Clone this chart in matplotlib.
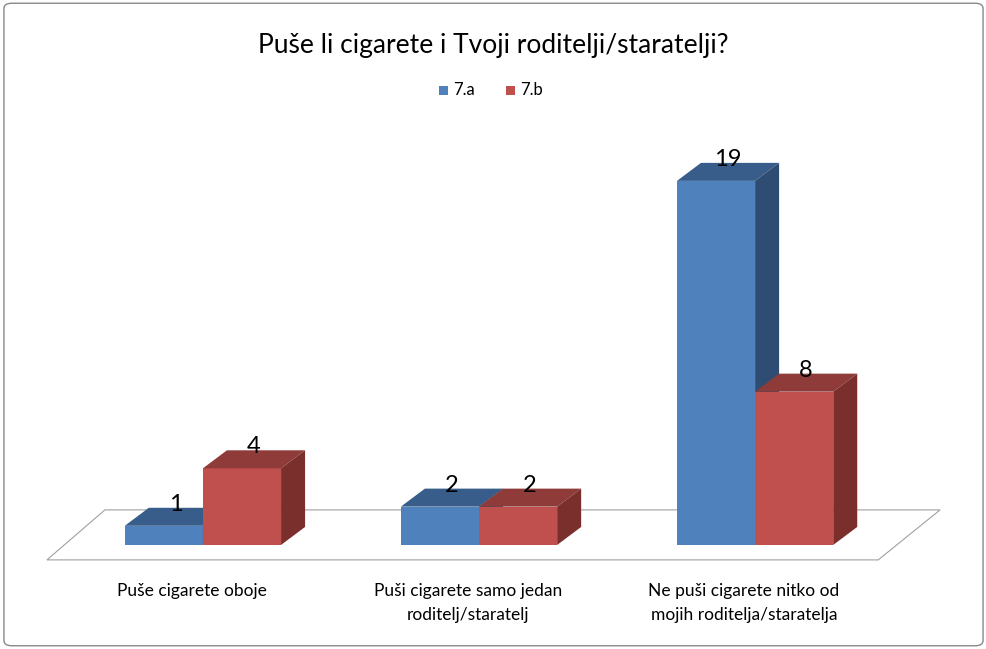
import matplotlib
matplotlib.use("Agg")
import matplotlib.pyplot as plt
from matplotlib.patches import Polygon, FancyBboxPatch

plt.rcParams["font.family"] = "Lato"

categories = ["Puše cigarete oboje", "Puši cigarete samo jedan\nroditelj/staratelj",
              "Ne puši cigarete nitko od\nmojih roditelja/staratelja"]
series_names = ["7.a", "7.b"]
values_a = [1, 2, 19]
values_b = [4, 2, 8]

front = {"7.a": "#4F81BD", "7.b": "#C0504D"}
top = {"7.a": "#385D8A", "7.b": "#8E3B39"}
side = {"7.a": "#2F4D72", "7.b": "#7A2F2D"}

fig = plt.figure(figsize=(9.87, 6.49), dpi=100)
ax = fig.add_axes([0, 0, 1, 1])
ax.set_xlim(-0.735, 2.84)
ax.set_ylim(-5.43, 28.44)
ax.axis("off")

w = 0.283
dx, dy = 0.087, 0.94

# floor
floor = Polygon([(-0.565, -0.78), (2.446, -0.78), (2.67, 1.83), (-0.355, 1.83)],
                closed=True, facecolor="white", edgecolor="#A0A0A0", lw=0.8, zorder=1)
ax.add_patch(floor)

def bar3d(x0, h, name):
    ax.add_patch(Polygon([(x0, 0), (x0 + w, 0), (x0 + w, h), (x0, h)],
                         facecolor=front[name], edgecolor="none", zorder=3))
    ax.add_patch(Polygon([(x0, h), (x0 + w, h), (x0 + w + dx, h + dy), (x0 + dx, h + dy)],
                         facecolor=top[name], edgecolor="none", zorder=3))
    ax.add_patch(Polygon([(x0 + w, 0), (x0 + w + dx, dy), (x0 + w + dx, h + dy), (x0 + w, h)],
                         facecolor=side[name], edgecolor="none", zorder=3))
    ax.text(x0 + w / 2 + dx / 2, h + dy * 0.6, str(h), ha="center", va="bottom",
            fontsize=17, zorder=5)

for i in range(len(categories)):
    bar3d(i - w, values_a[i], "7.a")
    bar3d(i, values_b[i], "7.b")
    ax.text(i - 0.04, -2.0, categories[i], ha="center", va="top", fontsize=12.5,
            linespacing=1.6)

fig.text(0.5, 0.93, "Puše li cigarete i Tvoji roditelji/staratelji?", ha="center",
         va="center", fontsize=19)

# legend
for k, name in enumerate(series_names):
    x = 0.445 + k * 0.068
    fig.patches.append(plt.Rectangle((x, 0.853), 0.009, 0.014, transform=fig.transFigure,
                                     facecolor=front[name], edgecolor="none"))
    fig.text(x + 0.014, 0.861, name, va="center", fontsize=12)

fig.patches.append(FancyBboxPatch((0.004, 0.005), 0.992, 0.99, boxstyle="round,pad=0,rounding_size=0.008",
                                  transform=fig.transFigure, facecolor="none",
                                  edgecolor="#888888", lw=1))

fig.savefig("out.png", dpi=100)
